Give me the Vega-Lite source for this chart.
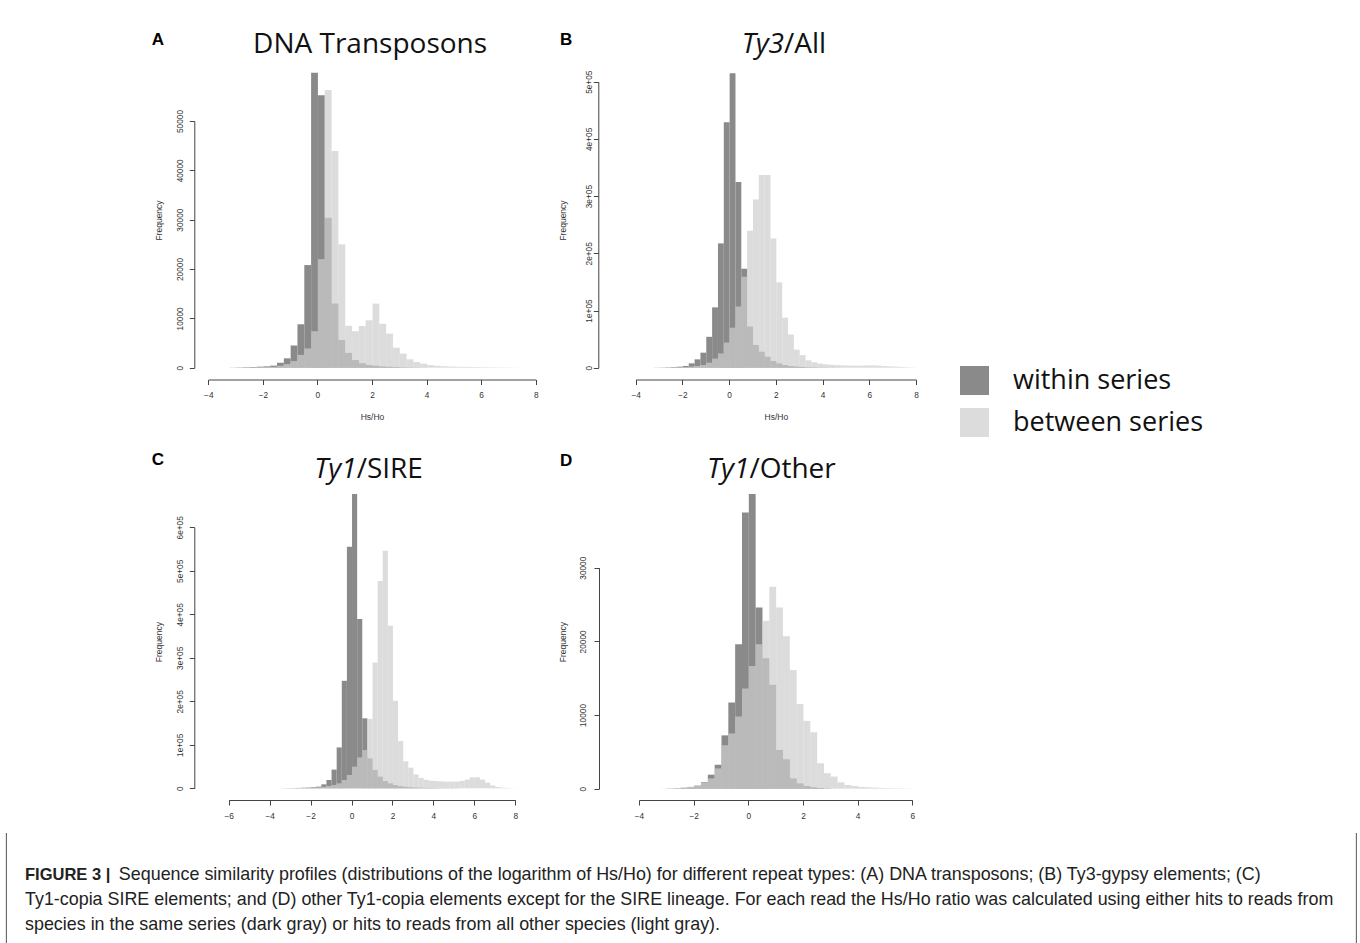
{
  "$schema": "https://vega.github.io/schema/vega-lite/v6.json",
  "background": "white",
  "padding": {"left": 3, "top": 0, "right": 0, "bottom": 0},
  "autosize": {"type": "pad"},
  "spacing": 0,
  "resolve": {"scale": {"color": "shared", "x": "independent", "y": "independent"}},
  "config": {
    "view": {"stroke": null},
    "axis": {"grid": false, "domainColor": "#444", "tickColor": "#444", "labelColor": "#333", "titleColor": "#333", "labelFont": "Liberation Sans", "titleFont": "Liberation Sans", "titleFontWeight": "normal", "labelFontSize": 8.3, "titleFontSize": 8.5, "tickSize": 5, "labelOverlap": false, "labelFlush": false}
  },
  "datasets": {
    "dna": [
      {"series": "within series", "bin_start": -3.25, "count": 30},
      {"series": "within series", "bin_start": -3, "count": 60},
      {"series": "within series", "bin_start": -2.75, "count": 100},
      {"series": "within series", "bin_start": -2.5, "count": 140},
      {"series": "within series", "bin_start": -2.25, "count": 200},
      {"series": "within series", "bin_start": -2, "count": 270},
      {"series": "within series", "bin_start": -1.75, "count": 420},
      {"series": "within series", "bin_start": -1.5, "count": 1000},
      {"series": "within series", "bin_start": -1.25, "count": 1900},
      {"series": "within series", "bin_start": -1, "count": 4500},
      {"series": "within series", "bin_start": -0.75, "count": 8800},
      {"series": "within series", "bin_start": -0.5, "count": 20800},
      {"series": "within series", "bin_start": -0.25, "count": 59800},
      {"series": "within series", "bin_start": 0, "count": 55200},
      {"series": "within series", "bin_start": 0.25, "count": 30400},
      {"series": "within series", "bin_start": 0.5, "count": 13000},
      {"series": "within series", "bin_start": 0.75, "count": 5600},
      {"series": "within series", "bin_start": 1, "count": 3000},
      {"series": "within series", "bin_start": 1.25, "count": 1550},
      {"series": "within series", "bin_start": 1.5, "count": 900},
      {"series": "within series", "bin_start": 1.75, "count": 550},
      {"series": "within series", "bin_start": 2, "count": 400},
      {"series": "within series", "bin_start": 2.25, "count": 270},
      {"series": "within series", "bin_start": 2.5, "count": 190},
      {"series": "within series", "bin_start": 2.75, "count": 130},
      {"series": "within series", "bin_start": 3, "count": 90},
      {"series": "within series", "bin_start": 3.25, "count": 60},
      {"series": "within series", "bin_start": 3.5, "count": 40},
      {"series": "within series", "bin_start": 3.75, "count": 25},
      {"series": "between series", "bin_start": -3, "count": 20},
      {"series": "between series", "bin_start": -2.75, "count": 40},
      {"series": "between series", "bin_start": -2.5, "count": 60},
      {"series": "between series", "bin_start": -2.25, "count": 90},
      {"series": "between series", "bin_start": -2, "count": 130},
      {"series": "between series", "bin_start": -1.75, "count": 200},
      {"series": "between series", "bin_start": -1.5, "count": 400},
      {"series": "between series", "bin_start": -1.25, "count": 740},
      {"series": "between series", "bin_start": -1, "count": 1350},
      {"series": "between series", "bin_start": -0.75, "count": 2600},
      {"series": "between series", "bin_start": -0.5, "count": 3900},
      {"series": "between series", "bin_start": -0.25, "count": 7400},
      {"series": "between series", "bin_start": 0, "count": 22000},
      {"series": "between series", "bin_start": 0.25, "count": 56300},
      {"series": "between series", "bin_start": 0.5, "count": 43900},
      {"series": "between series", "bin_start": 0.75, "count": 25000},
      {"series": "between series", "bin_start": 1, "count": 8500},
      {"series": "between series", "bin_start": 1.25, "count": 7400},
      {"series": "between series", "bin_start": 1.5, "count": 8450},
      {"series": "between series", "bin_start": 1.75, "count": 9600},
      {"series": "between series", "bin_start": 2, "count": 13000},
      {"series": "between series", "bin_start": 2.25, "count": 8900},
      {"series": "between series", "bin_start": 2.5, "count": 6900},
      {"series": "between series", "bin_start": 2.75, "count": 4050},
      {"series": "between series", "bin_start": 3, "count": 2850},
      {"series": "between series", "bin_start": 3.25, "count": 1700},
      {"series": "between series", "bin_start": 3.5, "count": 1150},
      {"series": "between series", "bin_start": 3.75, "count": 820},
      {"series": "between series", "bin_start": 4, "count": 540},
      {"series": "between series", "bin_start": 4.25, "count": 400},
      {"series": "between series", "bin_start": 4.5, "count": 300},
      {"series": "between series", "bin_start": 4.75, "count": 240},
      {"series": "between series", "bin_start": 5, "count": 200},
      {"series": "between series", "bin_start": 5.25, "count": 170},
      {"series": "between series", "bin_start": 5.5, "count": 150},
      {"series": "between series", "bin_start": 5.75, "count": 130},
      {"series": "between series", "bin_start": 6, "count": 110},
      {"series": "between series", "bin_start": 6.25, "count": 90},
      {"series": "between series", "bin_start": 6.5, "count": 70},
      {"series": "between series", "bin_start": 6.75, "count": 50},
      {"series": "between series", "bin_start": 7, "count": 30},
      {"series": "between series", "bin_start": 7.25, "count": 15}
    ],
    "ty3": [
      {"series": "within series", "bin_start": -3.25, "count": 200},
      {"series": "within series", "bin_start": -3, "count": 400},
      {"series": "within series", "bin_start": -2.75, "count": 700},
      {"series": "within series", "bin_start": -2.5, "count": 1100},
      {"series": "within series", "bin_start": -2.25, "count": 1800},
      {"series": "within series", "bin_start": -2, "count": 3000},
      {"series": "within series", "bin_start": -1.75, "count": 7600},
      {"series": "within series", "bin_start": -1.5, "count": 14600},
      {"series": "within series", "bin_start": -1.25, "count": 26300},
      {"series": "within series", "bin_start": -1, "count": 54000},
      {"series": "within series", "bin_start": -0.75, "count": 105500},
      {"series": "within series", "bin_start": -0.5, "count": 217300},
      {"series": "within series", "bin_start": -0.25, "count": 429000},
      {"series": "within series", "bin_start": 0, "count": 514600},
      {"series": "within series", "bin_start": 0.25, "count": 324600},
      {"series": "within series", "bin_start": 0.5, "count": 173000},
      {"series": "within series", "bin_start": 0.75, "count": 72000},
      {"series": "within series", "bin_start": 1, "count": 39700},
      {"series": "within series", "bin_start": 1.25, "count": 28000},
      {"series": "within series", "bin_start": 1.5, "count": 19300},
      {"series": "within series", "bin_start": 1.75, "count": 11700},
      {"series": "within series", "bin_start": 2, "count": 7600},
      {"series": "within series", "bin_start": 2.25, "count": 4700},
      {"series": "within series", "bin_start": 2.5, "count": 3000},
      {"series": "within series", "bin_start": 2.75, "count": 2000},
      {"series": "within series", "bin_start": 3, "count": 1400},
      {"series": "within series", "bin_start": 3.25, "count": 1000},
      {"series": "within series", "bin_start": 3.5, "count": 700},
      {"series": "within series", "bin_start": 3.75, "count": 500},
      {"series": "within series", "bin_start": 4, "count": 350},
      {"series": "within series", "bin_start": 4.25, "count": 250},
      {"series": "within series", "bin_start": 4.5, "count": 150},
      {"series": "between series", "bin_start": -3.25, "count": 100},
      {"series": "between series", "bin_start": -3, "count": 200},
      {"series": "between series", "bin_start": -2.75, "count": 350},
      {"series": "between series", "bin_start": -2.5, "count": 500},
      {"series": "between series", "bin_start": -2.25, "count": 800},
      {"series": "between series", "bin_start": -2, "count": 1200},
      {"series": "between series", "bin_start": -1.75, "count": 2000},
      {"series": "between series", "bin_start": -1.5, "count": 3000},
      {"series": "between series", "bin_start": -1.25, "count": 4700},
      {"series": "between series", "bin_start": -1, "count": 8800},
      {"series": "between series", "bin_start": -0.75, "count": 16000},
      {"series": "between series", "bin_start": -0.5, "count": 25000},
      {"series": "between series", "bin_start": -0.25, "count": 44000},
      {"series": "between series", "bin_start": 0, "count": 70000},
      {"series": "between series", "bin_start": 0.25, "count": 107000},
      {"series": "between series", "bin_start": 0.5, "count": 159000},
      {"series": "between series", "bin_start": 0.75, "count": 239500},
      {"series": "between series", "bin_start": 1, "count": 294000},
      {"series": "between series", "bin_start": 1.25, "count": 336800},
      {"series": "between series", "bin_start": 1.5, "count": 336800},
      {"series": "between series", "bin_start": 1.75, "count": 226000},
      {"series": "between series", "bin_start": 2, "count": 149200},
      {"series": "between series", "bin_start": 2.25, "count": 87400},
      {"series": "between series", "bin_start": 2.5, "count": 58000},
      {"series": "between series", "bin_start": 2.75, "count": 31500},
      {"series": "between series", "bin_start": 3, "count": 22000},
      {"series": "between series", "bin_start": 3.25, "count": 13000},
      {"series": "between series", "bin_start": 3.5, "count": 9500},
      {"series": "between series", "bin_start": 3.75, "count": 7200},
      {"series": "between series", "bin_start": 4, "count": 5800},
      {"series": "between series", "bin_start": 4.25, "count": 5000},
      {"series": "between series", "bin_start": 4.5, "count": 4400},
      {"series": "between series", "bin_start": 4.75, "count": 4000},
      {"series": "between series", "bin_start": 5, "count": 3700},
      {"series": "between series", "bin_start": 5.25, "count": 3500},
      {"series": "between series", "bin_start": 5.5, "count": 3500},
      {"series": "between series", "bin_start": 5.75, "count": 3800},
      {"series": "between series", "bin_start": 6, "count": 4000},
      {"series": "between series", "bin_start": 6.25, "count": 3600},
      {"series": "between series", "bin_start": 6.5, "count": 3000},
      {"series": "between series", "bin_start": 6.75, "count": 2400},
      {"series": "between series", "bin_start": 7, "count": 1800},
      {"series": "between series", "bin_start": 7.25, "count": 1200},
      {"series": "between series", "bin_start": 7.5, "count": 700},
      {"series": "between series", "bin_start": 7.75, "count": 300}
    ],
    "sire": [
      {"series": "within series", "bin_start": -3.5, "count": 200},
      {"series": "within series", "bin_start": -3.25, "count": 400},
      {"series": "within series", "bin_start": -3, "count": 600},
      {"series": "within series", "bin_start": -2.75, "count": 900},
      {"series": "within series", "bin_start": -2.5, "count": 1200},
      {"series": "within series", "bin_start": -2.25, "count": 1700},
      {"series": "within series", "bin_start": -2, "count": 2500},
      {"series": "within series", "bin_start": -1.75, "count": 3800},
      {"series": "within series", "bin_start": -1.5, "count": 9100},
      {"series": "within series", "bin_start": -1.25, "count": 19100},
      {"series": "within series", "bin_start": -1, "count": 43000},
      {"series": "within series", "bin_start": -0.75, "count": 94000},
      {"series": "within series", "bin_start": -0.5, "count": 247100},
      {"series": "within series", "bin_start": -0.25, "count": 555500},
      {"series": "within series", "bin_start": 0, "count": 676600},
      {"series": "within series", "bin_start": 0.25, "count": 389200},
      {"series": "within series", "bin_start": 0.5, "count": 160800},
      {"series": "within series", "bin_start": 0.75, "count": 68800},
      {"series": "within series", "bin_start": 1, "count": 42000},
      {"series": "within series", "bin_start": 1.25, "count": 26700},
      {"series": "within series", "bin_start": 1.5, "count": 16800},
      {"series": "within series", "bin_start": 1.75, "count": 11400},
      {"series": "within series", "bin_start": 2, "count": 7600},
      {"series": "within series", "bin_start": 2.25, "count": 5000},
      {"series": "within series", "bin_start": 2.5, "count": 3500},
      {"series": "within series", "bin_start": 2.75, "count": 2500},
      {"series": "within series", "bin_start": 3, "count": 1800},
      {"series": "within series", "bin_start": 3.25, "count": 1300},
      {"series": "within series", "bin_start": 3.5, "count": 900},
      {"series": "within series", "bin_start": 3.75, "count": 700},
      {"series": "within series", "bin_start": 4, "count": 500},
      {"series": "within series", "bin_start": 4.25, "count": 400},
      {"series": "within series", "bin_start": 4.5, "count": 300},
      {"series": "within series", "bin_start": 4.75, "count": 250},
      {"series": "within series", "bin_start": 5, "count": 200},
      {"series": "between series", "bin_start": -3.25, "count": 150},
      {"series": "between series", "bin_start": -3, "count": 300},
      {"series": "between series", "bin_start": -2.75, "count": 500},
      {"series": "between series", "bin_start": -2.5, "count": 800},
      {"series": "between series", "bin_start": -2.25, "count": 1200},
      {"series": "between series", "bin_start": -2, "count": 1700},
      {"series": "between series", "bin_start": -1.75, "count": 2400},
      {"series": "between series", "bin_start": -1.5, "count": 3400},
      {"series": "between series", "bin_start": -1.25, "count": 5300},
      {"series": "between series", "bin_start": -1, "count": 7600},
      {"series": "between series", "bin_start": -0.75, "count": 11400},
      {"series": "between series", "bin_start": -0.5, "count": 19100},
      {"series": "between series", "bin_start": -0.25, "count": 30600},
      {"series": "between series", "bin_start": 0, "count": 49700},
      {"series": "between series", "bin_start": 0.25, "count": 71100},
      {"series": "between series", "bin_start": 0.5, "count": 88000},
      {"series": "between series", "bin_start": 0.75, "count": 159400},
      {"series": "between series", "bin_start": 1, "count": 288800},
      {"series": "between series", "bin_start": 1.25, "count": 476400},
      {"series": "between series", "bin_start": 1.5, "count": 546200},
      {"series": "between series", "bin_start": 1.75, "count": 373600},
      {"series": "between series", "bin_start": 2, "count": 201200},
      {"series": "between series", "bin_start": 2.25, "count": 108500},
      {"series": "between series", "bin_start": 2.5, "count": 62000},
      {"series": "between series", "bin_start": 2.75, "count": 47500},
      {"series": "between series", "bin_start": 3, "count": 32000},
      {"series": "between series", "bin_start": 3.25, "count": 24000},
      {"series": "between series", "bin_start": 3.5, "count": 19500},
      {"series": "between series", "bin_start": 3.75, "count": 17500},
      {"series": "between series", "bin_start": 4, "count": 16500},
      {"series": "between series", "bin_start": 4.25, "count": 16000},
      {"series": "between series", "bin_start": 4.5, "count": 15500},
      {"series": "between series", "bin_start": 4.75, "count": 15300},
      {"series": "between series", "bin_start": 5, "count": 15500},
      {"series": "between series", "bin_start": 5.25, "count": 17000},
      {"series": "between series", "bin_start": 5.5, "count": 20000},
      {"series": "between series", "bin_start": 5.75, "count": 25000},
      {"series": "between series", "bin_start": 6, "count": 25500},
      {"series": "between series", "bin_start": 6.25, "count": 20000},
      {"series": "between series", "bin_start": 6.5, "count": 13000},
      {"series": "between series", "bin_start": 6.75, "count": 6500},
      {"series": "between series", "bin_start": 7, "count": 3000},
      {"series": "between series", "bin_start": 7.25, "count": 1500},
      {"series": "between series", "bin_start": 7.5, "count": 700},
      {"series": "between series", "bin_start": 7.75, "count": 300}
    ],
    "other": [
      {"series": "within series", "bin_start": -3, "count": 30},
      {"series": "within series", "bin_start": -2.75, "count": 60},
      {"series": "within series", "bin_start": -2.5, "count": 120},
      {"series": "within series", "bin_start": -2.25, "count": 220},
      {"series": "within series", "bin_start": -2, "count": 400},
      {"series": "within series", "bin_start": -1.75, "count": 900},
      {"series": "within series", "bin_start": -1.5, "count": 1900},
      {"series": "within series", "bin_start": -1.25, "count": 3250},
      {"series": "within series", "bin_start": -1, "count": 7240},
      {"series": "within series", "bin_start": -0.75, "count": 11700},
      {"series": "within series", "bin_start": -0.5, "count": 19600},
      {"series": "within series", "bin_start": -0.25, "count": 37500},
      {"series": "within series", "bin_start": 0, "count": 40000},
      {"series": "within series", "bin_start": 0.25, "count": 24600},
      {"series": "within series", "bin_start": 0.5, "count": 17700},
      {"series": "within series", "bin_start": 0.75, "count": 14100},
      {"series": "within series", "bin_start": 1, "count": 5250},
      {"series": "within series", "bin_start": 1.25, "count": 4000},
      {"series": "within series", "bin_start": 1.5, "count": 1400},
      {"series": "within series", "bin_start": 1.75, "count": 730},
      {"series": "within series", "bin_start": 2, "count": 370},
      {"series": "within series", "bin_start": 2.25, "count": 180},
      {"series": "within series", "bin_start": 2.5, "count": 100},
      {"series": "within series", "bin_start": 2.75, "count": 50},
      {"series": "between series", "bin_start": -3.25, "count": 20},
      {"series": "between series", "bin_start": -3, "count": 40},
      {"series": "between series", "bin_start": -2.75, "count": 80},
      {"series": "between series", "bin_start": -2.5, "count": 150},
      {"series": "between series", "bin_start": -2.25, "count": 270},
      {"series": "between series", "bin_start": -2, "count": 500},
      {"series": "between series", "bin_start": -1.75, "count": 860},
      {"series": "between series", "bin_start": -1.5, "count": 1400},
      {"series": "between series", "bin_start": -1.25, "count": 2760},
      {"series": "between series", "bin_start": -1, "count": 5900},
      {"series": "between series", "bin_start": -0.75, "count": 7500},
      {"series": "between series", "bin_start": -0.5, "count": 9800},
      {"series": "between series", "bin_start": -0.25, "count": 13600},
      {"series": "between series", "bin_start": 0, "count": 16650},
      {"series": "between series", "bin_start": 0.25, "count": 19600},
      {"series": "between series", "bin_start": 0.5, "count": 22800},
      {"series": "between series", "bin_start": 0.75, "count": 27400},
      {"series": "between series", "bin_start": 1, "count": 24600},
      {"series": "between series", "bin_start": 1.25, "count": 20700},
      {"series": "between series", "bin_start": 1.5, "count": 16100},
      {"series": "between series", "bin_start": 1.75, "count": 11500},
      {"series": "between series", "bin_start": 2, "count": 9200},
      {"series": "between series", "bin_start": 2.25, "count": 7650},
      {"series": "between series", "bin_start": 2.5, "count": 3450},
      {"series": "between series", "bin_start": 2.75, "count": 2100},
      {"series": "between series", "bin_start": 3, "count": 1650},
      {"series": "between series", "bin_start": 3.25, "count": 860},
      {"series": "between series", "bin_start": 3.5, "count": 500},
      {"series": "between series", "bin_start": 3.75, "count": 370},
      {"series": "between series", "bin_start": 4, "count": 250},
      {"series": "between series", "bin_start": 4.25, "count": 200},
      {"series": "between series", "bin_start": 4.5, "count": 150},
      {"series": "between series", "bin_start": 4.75, "count": 100},
      {"series": "between series", "bin_start": 5, "count": 80},
      {"series": "between series", "bin_start": 5.25, "count": 60},
      {"series": "between series", "bin_start": 5.5, "count": 40},
      {"series": "between series", "bin_start": 5.75, "count": 20}
    ]
  },
  "vconcat": [
    {
      "spacing": 0,
      "resolve": {"scale": {"color": "shared", "x": "independent", "y": "independent"}},
      "hconcat": [
        {
          "width": 552, "height": 440,
          "data": {"name": "dna"},
          "layer": [
            {
              "transform": [{"filter": "datum.series === 'within series'"}],
              "mark": {"type": "bar", "binSpacing": 0, "clip": false},
              "encoding": {
                "x": {"field": "bin_start", "type": "quantitative", "bin": {"binned": true, "step": 0.25}, "scale": {"domain": [-4, 8], "range": [205.3, 532.7], "nice": false, "zero": false}, "axis": {"values": [-4, -2, 0, 2, 4, 6, 8], "format": "d", "offset": -60.5, "labelAngle": 0, "labelBaseline": "middle", "labelPadding": 11, "title": "Hs/Ho", "titleY": 37.2, "titleBaseline": "middle"}},
                "y": {"field": "count", "type": "quantitative", "stack": null, "scale": {"domain": [0, 50000], "range": [367.7, 121.0], "nice": false, "zero": false}, "axis": {"values": [0, 10000, 20000, 30000, 40000, 50000], "format": "d", "offset": -191.3, "labelAngle": -90, "labelAlign": "center", "labelBaseline": "middle", "labelPadding": 9, "title": "Frequency", "titleX": -36, "titleY": 220, "titleAngle": -90, "titleAlign": "center", "titleBaseline": "middle"}},
                "color": {"field": "series", "type": "nominal", "scale": {"domain": ["within series", "between series"], "range": ["#8a8a8a", "#cecece"]}, "legend": {"orient": "none", "legendX": 957, "legendY": 366, "title": null, "symbolType": "square", "symbolSize": 841, "symbolStrokeWidth": 0, "labelFont": "Open Sans", "labelFontSize": 27, "labelColor": "#111", "labelOffset": 24, "rowPadding": 13, "labelLimit": 600, "padding": 0, "encode": {"symbols": {"update": {"opacity": {"signal": "datum.value === 'between series' ? 0.71 : 1"}}}}}}
              }
            },
            {
              "transform": [{"filter": "datum.series === 'between series'"}],
              "mark": {"type": "bar", "binSpacing": 0, "clip": false, "opacity": 0.71},
              "encoding": {
                "x": {"field": "bin_start", "type": "quantitative", "bin": {"binned": true, "step": 0.25}, "scale": {"domain": [-4, 8], "range": [205.3, 532.7], "nice": false, "zero": false}, "axis": {"values": [-4, -2, 0, 2, 4, 6, 8], "format": "d", "offset": -60.5, "labelAngle": 0, "labelBaseline": "middle", "labelPadding": 11, "title": "Hs/Ho", "titleY": 37.2, "titleBaseline": "middle"}},
                "y": {"field": "count", "type": "quantitative", "stack": null, "scale": {"domain": [0, 50000], "range": [367.7, 121.0], "nice": false, "zero": false}, "axis": {"values": [0, 10000, 20000, 30000, 40000, 50000], "format": "d", "offset": -191.3, "labelAngle": -90, "labelAlign": "center", "labelBaseline": "middle", "labelPadding": 9, "title": "Frequency", "titleX": -36, "titleY": 220, "titleAngle": -90, "titleAlign": "center", "titleBaseline": "middle"}},
                "color": {"field": "series", "type": "nominal", "scale": {"domain": ["within series", "between series"], "range": ["#8a8a8a", "#cecece"]}, "legend": {"orient": "none", "legendX": 957, "legendY": 366, "title": null, "symbolType": "square", "symbolSize": 841, "symbolStrokeWidth": 0, "labelFont": "Open Sans", "labelFontSize": 27, "labelColor": "#111", "labelOffset": 24, "rowPadding": 13, "labelLimit": 600, "padding": 0, "encode": {"symbols": {"update": {"opacity": {"signal": "datum.value === 'between series' ? 0.71 : 1"}}}}}}
              }
            },
            {
              "data": {"values": [{}]},
              "mark": {"type": "text", "font": "Liberation Sans", "fontWeight": "bold", "fontSize": 17, "align": "left", "baseline": "alphabetic", "color": "#000", "clip": false},
              "encoding": {"x": {"datum": -6.075}, "y": {"datum": 65410}, "text": {"value": "A"}}
            },
            {
              "data": {"values": [{}]},
              "mark": {"type": "text", "font": "Open Sans", "fontSize": 28, "align": "center", "baseline": "alphabetic", "color": "#111", "clip": false},
              "encoding": {"x": {"datum": 1.93}, "y": {"datum": 63730}, "text": {"value": "DNA Transposons"}}
            }
          ]
        },
        {
          "width": 390, "height": 440,
          "data": {"name": "ty3"},
          "layer": [
            {
              "transform": [{"filter": "datum.series === 'within series'"}],
              "mark": {"type": "bar", "binSpacing": 0, "clip": false},
              "encoding": {
                "x": {"field": "bin_start", "type": "quantitative", "bin": {"binned": true, "step": 0.25}, "scale": {"domain": [-4, 8], "range": [80.7, 361], "nice": false, "zero": false}, "axis": {"values": [-4, -2, 0, 2, 4, 6, 8], "format": "d", "offset": -60.5, "labelAngle": 0, "labelBaseline": "middle", "labelPadding": 11, "title": "Hs/Ho", "titleY": 37.2, "titleBaseline": "middle"}},
                "y": {"field": "count", "type": "quantitative", "stack": null, "scale": {"domain": [0, 500000], "range": [367.7, 81.7], "nice": false, "zero": false}, "axis": {"values": [0, 100000, 200000, 300000, 400000, 500000], "labelExpr": "datum.value == 0 ? '0' : (datum.value / 100000) + 'e+05'", "offset": -43.3, "labelAngle": -90, "labelAlign": "center", "labelBaseline": "middle", "labelPadding": 4, "title": "Frequency", "titleX": -35.8, "titleY": 220, "titleAngle": -90, "titleAlign": "center", "titleBaseline": "middle"}},
                "color": {"field": "series", "type": "nominal", "scale": {"domain": ["within series", "between series"], "range": ["#8a8a8a", "#cecece"]}, "legend": {"orient": "none", "legendX": 957, "legendY": 366, "title": null, "symbolType": "square", "symbolSize": 841, "symbolStrokeWidth": 0, "labelFont": "Open Sans", "labelFontSize": 27, "labelColor": "#111", "labelOffset": 24, "rowPadding": 13, "labelLimit": 600, "padding": 0, "encode": {"symbols": {"update": {"opacity": {"signal": "datum.value === 'between series' ? 0.71 : 1"}}}}}}
              }
            },
            {
              "transform": [{"filter": "datum.series === 'between series'"}],
              "mark": {"type": "bar", "binSpacing": 0, "clip": false, "opacity": 0.71},
              "encoding": {
                "x": {"field": "bin_start", "type": "quantitative", "bin": {"binned": true, "step": 0.25}, "scale": {"domain": [-4, 8], "range": [80.7, 361], "nice": false, "zero": false}, "axis": {"values": [-4, -2, 0, 2, 4, 6, 8], "format": "d", "offset": -60.5, "labelAngle": 0, "labelBaseline": "middle", "labelPadding": 11, "title": "Hs/Ho", "titleY": 37.2, "titleBaseline": "middle"}},
                "y": {"field": "count", "type": "quantitative", "stack": null, "scale": {"domain": [0, 500000], "range": [367.7, 81.7], "nice": false, "zero": false}, "axis": {"values": [0, 100000, 200000, 300000, 400000, 500000], "labelExpr": "datum.value == 0 ? '0' : (datum.value / 100000) + 'e+05'", "offset": -43.3, "labelAngle": -90, "labelAlign": "center", "labelBaseline": "middle", "labelPadding": 4, "title": "Frequency", "titleX": -35.8, "titleY": 220, "titleAngle": -90, "titleAlign": "center", "titleBaseline": "middle"}},
                "color": {"field": "series", "type": "nominal", "scale": {"domain": ["within series", "between series"], "range": ["#8a8a8a", "#cecece"]}, "legend": {"orient": "none", "legendX": 957, "legendY": 366, "title": null, "symbolType": "square", "symbolSize": 841, "symbolStrokeWidth": 0, "labelFont": "Open Sans", "labelFontSize": 27, "labelColor": "#111", "labelOffset": 24, "rowPadding": 13, "labelLimit": 600, "padding": 0, "encode": {"symbols": {"update": {"opacity": {"signal": "datum.value === 'between series' ? 0.71 : 1"}}}}}}
              }
            },
            {
              "data": {"values": [{}]},
              "mark": {"type": "text", "font": "Liberation Sans", "fontWeight": "bold", "fontSize": 17, "align": "left", "baseline": "alphabetic", "color": "#000", "clip": false},
              "encoding": {"x": {"datum": -7.24}, "y": {"datum": 564200}, "text": {"value": "B"}}
            },
            {
              "data": {"values": [{}]},
              "mark": {"type": "text", "font": "Open Sans", "fontSize": 28, "fontStyle": "italic", "align": "right", "baseline": "alphabetic", "color": "#111", "clip": false},
              "encoding": {"x": {"datum": 2.35}, "y": {"datum": 549700}, "text": {"value": "Ty3"}}
            },
            {
              "data": {"values": [{}]},
              "mark": {"type": "text", "font": "Open Sans", "fontSize": 28, "align": "left", "baseline": "alphabetic", "color": "#111", "clip": false},
              "encoding": {"x": {"datum": 2.35}, "y": {"datum": 549700}, "text": {"value": "/All"}}
            }
          ]
        }
      ]
    },
    {
      "spacing": 0,
      "resolve": {"scale": {"color": "shared", "x": "independent", "y": "independent"}},
      "hconcat": [
        {
          "width": 552, "height": 392,
          "data": {"name": "sire"},
          "layer": [
            {
              "transform": [{"filter": "datum.series === 'within series'"}],
              "mark": {"type": "bar", "binSpacing": 0, "clip": false},
              "encoding": {
                "x": {"field": "bin_start", "type": "quantitative", "bin": {"binned": true, "step": 0.25}, "scale": {"domain": [-6, 8], "range": [225.7, 512.3], "nice": false, "zero": false}, "axis": {"values": [-6, -4, -2, 0, 2, 4, 6, 8], "format": "d", "offset": -32, "labelAngle": 0, "labelBaseline": "middle", "labelPadding": 11.7, "title": null}},
                "y": {"field": "count", "type": "quantitative", "stack": null, "scale": {"domain": [0, 600000], "range": [348.3, 87.3], "nice": false, "zero": false}, "axis": {"values": [0, 100000, 200000, 300000, 400000, 500000, 600000], "labelExpr": "datum.value == 0 ? '0' : (datum.value / 100000) + 'e+05'", "offset": -191.3, "labelAngle": -90, "labelAlign": "center", "labelBaseline": "middle", "labelPadding": 9.3, "title": "Frequency", "titleX": -36, "titleY": 201.7, "titleAngle": -90, "titleAlign": "center", "titleBaseline": "middle"}},
                "color": {"field": "series", "type": "nominal", "scale": {"domain": ["within series", "between series"], "range": ["#8a8a8a", "#cecece"]}, "legend": {"orient": "none", "legendX": 957, "legendY": 366, "title": null, "symbolType": "square", "symbolSize": 841, "symbolStrokeWidth": 0, "labelFont": "Open Sans", "labelFontSize": 27, "labelColor": "#111", "labelOffset": 24, "rowPadding": 13, "labelLimit": 600, "padding": 0, "encode": {"symbols": {"update": {"opacity": {"signal": "datum.value === 'between series' ? 0.71 : 1"}}}}}}
              }
            },
            {
              "transform": [{"filter": "datum.series === 'between series'"}],
              "mark": {"type": "bar", "binSpacing": 0, "clip": false, "opacity": 0.71},
              "encoding": {
                "x": {"field": "bin_start", "type": "quantitative", "bin": {"binned": true, "step": 0.25}, "scale": {"domain": [-6, 8], "range": [225.7, 512.3], "nice": false, "zero": false}, "axis": {"values": [-6, -4, -2, 0, 2, 4, 6, 8], "format": "d", "offset": -32, "labelAngle": 0, "labelBaseline": "middle", "labelPadding": 11.7, "title": null}},
                "y": {"field": "count", "type": "quantitative", "stack": null, "scale": {"domain": [0, 600000], "range": [348.3, 87.3], "nice": false, "zero": false}, "axis": {"values": [0, 100000, 200000, 300000, 400000, 500000, 600000], "labelExpr": "datum.value == 0 ? '0' : (datum.value / 100000) + 'e+05'", "offset": -191.3, "labelAngle": -90, "labelAlign": "center", "labelBaseline": "middle", "labelPadding": 9.3, "title": "Frequency", "titleX": -36, "titleY": 201.7, "titleAngle": -90, "titleAlign": "center", "titleBaseline": "middle"}},
                "color": {"field": "series", "type": "nominal", "scale": {"domain": ["within series", "between series"], "range": ["#8a8a8a", "#cecece"]}, "legend": {"orient": "none", "legendX": 957, "legendY": 366, "title": null, "symbolType": "square", "symbolSize": 841, "symbolStrokeWidth": 0, "labelFont": "Open Sans", "labelFontSize": 27, "labelColor": "#111", "labelOffset": 24, "rowPadding": 13, "labelLimit": 600, "padding": 0, "encode": {"symbols": {"update": {"opacity": {"signal": "datum.value === 'between series' ? 0.71 : 1"}}}}}}
              }
            },
            {
              "data": {"values": [{}]},
              "mark": {"type": "text", "font": "Liberation Sans", "fontWeight": "bold", "fontSize": 17, "align": "left", "baseline": "alphabetic", "color": "#000", "clip": false},
              "encoding": {"x": {"datum": -9.76}, "y": {"datum": 742100}, "text": {"value": "C"}}
            },
            {
              "data": {"values": [{}]},
              "mark": {"type": "text", "font": "Open Sans", "fontSize": 28, "fontStyle": "italic", "align": "right", "baseline": "alphabetic", "color": "#111", "clip": false},
              "encoding": {"x": {"datum": 0.25}, "y": {"datum": 712700}, "text": {"value": "Ty1"}}
            },
            {
              "data": {"values": [{}]},
              "mark": {"type": "text", "font": "Open Sans", "fontSize": 28, "align": "left", "baseline": "alphabetic", "color": "#111", "clip": false},
              "encoding": {"x": {"datum": 0.25}, "y": {"datum": 712700}, "text": {"value": "/SIRE"}}
            }
          ]
        },
        {
          "width": 390, "height": 392,
          "data": {"name": "other"},
          "layer": [
            {
              "transform": [{"filter": "datum.series === 'within series'"}],
              "mark": {"type": "bar", "binSpacing": 0, "clip": false},
              "encoding": {
                "x": {"field": "bin_start", "type": "quantitative", "bin": {"binned": true, "step": 0.25}, "scale": {"domain": [-4, 6], "range": [84, 357.3], "nice": false, "zero": false}, "axis": {"values": [-4, -2, 0, 2, 4, 6], "format": "d", "offset": -32, "labelAngle": 0, "labelBaseline": "middle", "labelPadding": 11.7, "title": null}},
                "y": {"field": "count", "type": "quantitative", "stack": null, "scale": {"domain": [0, 30000], "range": [348.7, 127.7], "nice": false, "zero": false}, "axis": {"values": [0, 10000, 20000, 30000], "format": "d", "offset": -44, "labelAngle": -90, "labelAlign": "center", "labelBaseline": "middle", "labelPadding": 10.7, "title": "Frequency", "titleX": -37, "titleY": 201.7, "titleAngle": -90, "titleAlign": "center", "titleBaseline": "middle"}},
                "color": {"field": "series", "type": "nominal", "scale": {"domain": ["within series", "between series"], "range": ["#8a8a8a", "#cecece"]}, "legend": {"orient": "none", "legendX": 957, "legendY": 366, "title": null, "symbolType": "square", "symbolSize": 841, "symbolStrokeWidth": 0, "labelFont": "Open Sans", "labelFontSize": 27, "labelColor": "#111", "labelOffset": 24, "rowPadding": 13, "labelLimit": 600, "padding": 0, "encode": {"symbols": {"update": {"opacity": {"signal": "datum.value === 'between series' ? 0.71 : 1"}}}}}}
              }
            },
            {
              "transform": [{"filter": "datum.series === 'between series'"}],
              "mark": {"type": "bar", "binSpacing": 0, "clip": false, "opacity": 0.71},
              "encoding": {
                "x": {"field": "bin_start", "type": "quantitative", "bin": {"binned": true, "step": 0.25}, "scale": {"domain": [-4, 6], "range": [84, 357.3], "nice": false, "zero": false}, "axis": {"values": [-4, -2, 0, 2, 4, 6], "format": "d", "offset": -32, "labelAngle": 0, "labelBaseline": "middle", "labelPadding": 11.7, "title": null}},
                "y": {"field": "count", "type": "quantitative", "stack": null, "scale": {"domain": [0, 30000], "range": [348.7, 127.7], "nice": false, "zero": false}, "axis": {"values": [0, 10000, 20000, 30000], "format": "d", "offset": -44, "labelAngle": -90, "labelAlign": "center", "labelBaseline": "middle", "labelPadding": 10.7, "title": "Frequency", "titleX": -37, "titleY": 201.7, "titleAngle": -90, "titleAlign": "center", "titleBaseline": "middle"}},
                "color": {"field": "series", "type": "nominal", "scale": {"domain": ["within series", "between series"], "range": ["#8a8a8a", "#cecece"]}, "legend": {"orient": "none", "legendX": 957, "legendY": 366, "title": null, "symbolType": "square", "symbolSize": 841, "symbolStrokeWidth": 0, "labelFont": "Open Sans", "labelFontSize": 27, "labelColor": "#111", "labelOffset": 24, "rowPadding": 13, "labelLimit": 600, "padding": 0, "encode": {"symbols": {"update": {"opacity": {"signal": "datum.value === 'between series' ? 0.71 : 1"}}}}}}
              }
            },
            {
              "data": {"values": [{}]},
              "mark": {"type": "text", "font": "Liberation Sans", "fontWeight": "bold", "fontSize": 17, "align": "left", "baseline": "alphabetic", "color": "#000", "clip": false},
              "encoding": {"x": {"datum": -6.89}, "y": {"datum": 43810}, "text": {"value": "D"}}
            },
            {
              "data": {"values": [{}]},
              "mark": {"type": "text", "font": "Open Sans", "fontSize": 28, "fontStyle": "italic", "align": "right", "baseline": "alphabetic", "color": "#111", "clip": false},
              "encoding": {"x": {"datum": 0.04}, "y": {"datum": 42140}, "text": {"value": "Ty1"}}
            },
            {
              "data": {"values": [{}]},
              "mark": {"type": "text", "font": "Open Sans", "fontSize": 28, "align": "left", "baseline": "alphabetic", "color": "#111", "clip": false},
              "encoding": {"x": {"datum": 0.04}, "y": {"datum": 42140}, "text": {"value": "/Other"}}
            }
          ]
        }
      ]
    },
    {
      "width": 1352, "height": 111,
      "data": {"values": [
        {"line": 1, "part": "label", "text": "FIGURE 3 |"},
        {"line": 1, "part": "body", "text": "Sequence similarity profiles (distributions of the logarithm of Hs/Ho) for different repeat types: (A) DNA transposons; (B) Ty3-gypsy elements; (C)"},
        {"line": 2, "part": "body", "text": "Ty1-copia SIRE elements; and (D) other Ty1-copia elements except for the SIRE lineage. For each read the Hs/Ho ratio was calculated using either hits to reads from"},
        {"line": 3, "part": "body", "text": "species in the same series (dark gray) or hits to reads from all other species (light gray)."}
      ]},
      "layer": [
        {
          "data": {"values": [{}]},
          "mark": {"type": "rule", "color": "#555", "strokeWidth": 1},
          "encoding": {"x": {"datum": 0.0025, "type": "quantitative", "scale": {"domain": [0, 1], "range": [0, 1352]}, "axis": null}}
        },
        {
          "data": {"values": [{}]},
          "mark": {"type": "rule", "color": "#555", "strokeWidth": 1},
          "encoding": {"x": {"datum": 1.001, "type": "quantitative", "scale": {"domain": [0, 1], "range": [0, 1352]}, "axis": null}}
        },
        {
          "transform": [{"filter": "datum.part === 'label'"}],
          "mark": {"type": "text", "align": "left", "baseline": "alphabetic", "font": "Liberation Sans", "fontWeight": "bold", "fontSize": 16.5, "color": "#222"},
          "encoding": {
            "x": {"datum": 0.01627, "type": "quantitative", "scale": {"domain": [0, 1], "range": [0, 1352]}, "axis": null},
            "y": {"field": "line", "type": "ordinal", "scale": {"type": "point", "domain": [1, 2, 3], "range": [47, 97], "padding": 0}, "axis": null},
            "text": {"field": "text"}
          }
        },
        {
          "transform": [{"filter": "datum.part === 'body' && datum.line === 1"}],
          "mark": {"type": "text", "align": "left", "baseline": "alphabetic", "font": "Liberation Sans", "fontSize": 17.9, "color": "#222"},
          "encoding": {
            "x": {"datum": 0.0857, "type": "quantitative", "scale": {"domain": [0, 1], "range": [0, 1352]}, "axis": null},
            "y": {"field": "line", "type": "ordinal", "scale": {"type": "point", "domain": [1, 2, 3], "range": [47, 97], "padding": 0}, "axis": null},
            "text": {"field": "text"}
          }
        },
        {
          "transform": [{"filter": "datum.part === 'body' && datum.line > 1"}],
          "mark": {"type": "text", "align": "left", "baseline": "alphabetic", "font": "Liberation Sans", "fontSize": 17.9, "color": "#222"},
          "encoding": {
            "x": {"datum": 0.01627, "type": "quantitative", "scale": {"domain": [0, 1], "range": [0, 1352]}, "axis": null},
            "y": {"field": "line", "type": "ordinal", "scale": {"type": "point", "domain": [1, 2, 3], "range": [47, 97], "padding": 0}, "axis": null},
            "text": {"field": "text"}
          }
        }
      ]
    }
  ]
}
